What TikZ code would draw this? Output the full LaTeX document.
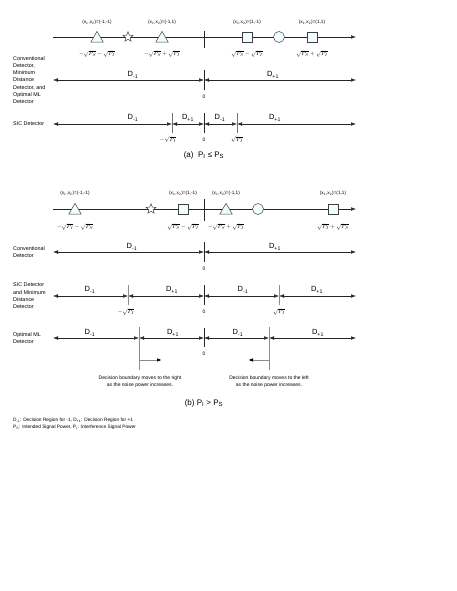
\documentclass[tikz,border=0pt]{standalone}
\usepackage{fontspec}
\setmainfont{Liberation Sans}
\usetikzlibrary{arrows.meta,shapes.geometric}
\begin{document}
\begin{tikzpicture}[x=1pt,y=-1pt,
  tip/.tip={Latex[length=5pt,width=3.6pt]},
  ln/.style={draw=black!85,line width=0.5pt},
  dbl/.style={ln,tip-tip},
  axisln/.style={ln,-tip},
  tickln/.style={draw=black!85,line width=0.5pt},
  gtick/.style={draw=black!45,line width=1pt},
  shp/.style={draw=black!75,line width=0.5pt,fill=blue!12!cyan!5!white,inner sep=0pt},
  tri/.style={shp,regular polygon,regular polygon sides=3,minimum size=14.5pt},
  sq/.style={shp,rectangle,minimum size=10pt},
  circ/.style={shp,circle,minimum size=11pt},
  str/.style={draw=black!75,line width=0.5pt,fill=white,star,star points=5,star point ratio=2.3,minimum size=10.5pt,inner sep=0pt},
  tinytxt/.style={font=\fontsize{4.7}{5}\selectfont,inner sep=0pt},
  val/.style={font=\fontsize{5}{6}\selectfont,inner sep=0pt},
  mval/.style={font=\fontsize{10}{12}\selectfont,inner sep=0pt,scale=0.6},
  dl/.style={font=\fontsize{7.5}{8}\selectfont,inner sep=0pt},
  lab/.style={font=\fontsize{5.4}{7.3}\selectfont,align=left,anchor=west,inner sep=0pt},
  captxt/.style={font=\fontsize{8}{9}\selectfont,inner sep=0pt},
  notetxt/.style={font=\fontsize{5}{7}\selectfont,align=center,inner sep=0pt},
  leg/.style={font=\fontsize{4.8}{6}\selectfont,anchor=west,inner sep=0pt}]
\useasboundingbox (0,0) rectangle (457,591);

% ================= (a) =================
\coordinate (aS) at (53,37);
\coordinate (aE) at (356,37);
\coordinate (aTt) at (204,31);
\coordinate (aTb) at (204,48);
\draw[axisln] (aS) -- (aE);
\draw[tickln] (aTt) -- (aTb);
\node[tri] (aP1) at (97,38.6) {};
\node[str] (aP2) at (128,37) {};
\node[tri] (aP3) at (162,38.6) {};
\node[sq] (aP4) at (247,37) {};
\node[circ] (aP5) at (279,37) {};
\node[sq] (aP6) at (312,37) {};
\node[tinytxt] (aC1) at (97,22) {(x\textsubscript{1},x\textsubscript{2})=(-1,-1)};
\node[tinytxt] (aC3) at (162,22) {(x\textsubscript{1},x\textsubscript{2})=(-1,1)};
\node[tinytxt] (aC4) at (247,22) {(x\textsubscript{1},x\textsubscript{2})=(1,-1)};
\node[tinytxt] (aC6) at (312,22) {(x\textsubscript{1},x\textsubscript{2})=(1,1)};
\node[mval] (aV1) at (97,54) {$-\sqrt{P_S}-\sqrt{P_I}$};
\node[mval] (aV3) at (162,54) {$-\sqrt{P_S}+\sqrt{P_I}$};
\node[mval] (aV4) at (247,54) {$\sqrt{P_S}-\sqrt{P_I}$};
\node[mval] (aV6) at (312,54) {$\sqrt{P_S}+\sqrt{P_I}$};

\node[lab] (aL1) at (13,80) {Conventional\\Detector,\\Minimum\\Distance\\Detector, and\\Optimal ML\\Detector};
\coordinate (bL) at (53,80);
\coordinate (bZ) at (204,80);
\coordinate (bR) at (356,80);
\coordinate (bZt) at (204,70);
\coordinate (bZb) at (204,90);
\draw[dbl] (bL) -- (bZ);
\draw[dbl] (bZ) -- (bR);
\draw[tickln] (bZt) -- (bZb);
\node[dl] (bD1) at (133,75) {D\textsubscript{-1}};
\node[dl] (bD2) at (273,75) {D\textsubscript{+1}};
\node[val] (bN0) at (204,97) {0};

\node[lab] (aL2) at (13,124) {SIC Detector};
\coordinate (cL) at (53,124);
\coordinate (cA) at (172,124);
\coordinate (cZ) at (204,124);
\coordinate (cB) at (237,124);
\coordinate (cR) at (356,124);
\coordinate (cAt) at (172,113);
\coordinate (cAb) at (172,133);
\coordinate (cZt) at (204,113);
\coordinate (cZb) at (204,133);
\coordinate (cBt) at (237,113);
\coordinate (cBb) at (237,133);
\draw[dbl] (cL) -- (cA);
\draw[dbl] (cA) -- (cZ);
\draw[dbl] (cZ) -- (cB);
\draw[dbl] (cB) -- (cR);
\draw[tickln,draw=black!55] (cAt) -- (cAb);
\draw[tickln] (cZt) -- (cZb);
\draw[tickln,draw=black!55] (cBt) -- (cBb);
\node[dl] (cD1) at (133,118) {D\textsubscript{-1}};
\node[dl] (cD2) at (188,118) {D\textsubscript{+1}};
\node[dl] (cD3) at (220,118) {D\textsubscript{-1}};
\node[dl] (cD4) at (275,118) {D\textsubscript{+1}};
\node[mval] (cV1) at (168,139.5) {$-\sqrt{P_I}$};
\node[val] (cV2) at (204,139.5) {0};
\node[mval] (cV3) at (237,139.5) {$\sqrt{P_I}$};

\node[captxt] (capA) at (204,155) {(a)\ \ P\textsubscript{I} ≤ P\textsubscript{S}};

% ================= (b) =================
\coordinate (dS) at (53,209);
\coordinate (dE) at (356,209);
\coordinate (dTt) at (204,199);
\coordinate (dTb) at (204,221);
\draw[axisln] (dS) -- (dE);
\draw[tickln] (dTt) -- (dTb);
\node[tri] (dP1) at (75,210.6) {};
\node[str] (dP2) at (151,209) {};
\node[sq] (dP3) at (183,209) {};
\node[tri] (dP4) at (226,210.6) {};
\node[circ] (dP5) at (258,209) {};
\node[sq] (dP6) at (333,209) {};
\node[tinytxt] (dC1) at (75,193) {(x\textsubscript{1},x\textsubscript{2})=(-1,-1)};
\node[tinytxt] (dC3) at (183,193) {(x\textsubscript{1},x\textsubscript{2})=(1,-1)};
\node[tinytxt] (dC4) at (226,193) {(x\textsubscript{1},x\textsubscript{2})=(-1,1)};
\node[tinytxt] (dC6) at (333,193) {(x\textsubscript{1},x\textsubscript{2})=(1,1)};
\node[mval] (dV1) at (75,227) {$-\sqrt{P_I}-\sqrt{P_S}$};
\node[mval] (dV3) at (183,227) {$\sqrt{P_S}-\sqrt{P_I}$};
\node[mval] (dV4) at (226,227) {$-\sqrt{P_S}+\sqrt{P_I}$};
\node[mval] (dV6) at (333,227) {$\sqrt{P_I}+\sqrt{P_S}$};

\node[lab] (dL1) at (13,252) {Conventional\\Detector};
\coordinate (eL) at (53,252);
\coordinate (eZ) at (204,252);
\coordinate (eR) at (356,252);
\coordinate (eZt) at (204,242);
\coordinate (eZb) at (204,262);
\draw[dbl] (eL) -- (eZ);
\draw[dbl] (eZ) -- (eR);
\draw[tickln] (eZt) -- (eZb);
\node[dl] (eD1) at (132,247) {D\textsubscript{-1}};
\node[dl] (eD2) at (275,247) {D\textsubscript{+1}};
\node[val] (eN0) at (204,269) {0};

\node[lab] (dL2) at (13,296) {SIC Detector\\and Minimum\\Distance\\Detector};
\coordinate (fL) at (53,296);
\coordinate (fA) at (128,296);
\coordinate (fZ) at (204,296);
\coordinate (fB) at (279,296);
\coordinate (fR) at (356,296);
\coordinate (fAt) at (128,285);
\coordinate (fAb) at (128,305);
\coordinate (fZt) at (204,285);
\coordinate (fZb) at (204,305);
\coordinate (fBt) at (279,285);
\coordinate (fBb) at (279,305);
\draw[dbl] (fL) -- (fA);
\draw[dbl] (fA) -- (fZ);
\draw[dbl] (fZ) -- (fB);
\draw[dbl] (fB) -- (fR);
\draw[gtick] (fAt) -- (fAb);
\draw[tickln] (fZt) -- (fZb);
\draw[gtick] (fBt) -- (fBb);
\node[dl] (fD1) at (90,290) {D\textsubscript{-1}};
\node[dl] (fD2) at (172,290) {D\textsubscript{+1}};
\node[dl] (fD3) at (243,290) {D\textsubscript{-1}};
\node[dl] (fD4) at (317,290) {D\textsubscript{+1}};
\node[mval] (fV1) at (126,312) {$-\sqrt{P_I}$};
\node[val] (fV2) at (204,312) {0};
\node[mval] (fV3) at (279,312) {$\sqrt{P_I}$};

\node[lab] (dL3) at (13,338) {Optimal ML\\Detector};
\coordinate (gL) at (53,338);
\coordinate (gA) at (139,338);
\coordinate (gZ) at (204,338);
\coordinate (gB) at (269,338);
\coordinate (gR) at (356,338);
\coordinate (gAt) at (139,327);
\coordinate (gAb) at (139,370);
\coordinate (gZt) at (204,328);
\coordinate (gZb) at (204,347);
\coordinate (gBt) at (269,327);
\coordinate (gBb) at (269,370);
\draw[dbl] (gL) -- (gA);
\draw[dbl] (gA) -- (gZ);
\draw[dbl] (gZ) -- (gB);
\draw[dbl] (gB) -- (gR);
\draw[gtick] (gAt) -- (gAb);
\draw[tickln] (gZt) -- (gZb);
\draw[gtick] (gBt) -- (gBb);
\node[dl] (gD1) at (90,333) {D\textsubscript{-1}};
\node[dl] (gD2) at (173,333) {D\textsubscript{+1}};
\node[dl] (gD3) at (238,333) {D\textsubscript{-1}};
\node[dl] (gD4) at (318,333) {D\textsubscript{+1}};
\node[val] (gN0) at (204,354) {0};
\coordinate (hA1) at (139,360);
\coordinate (hA2) at (162,360);
\coordinate (hB1) at (269,360);
\coordinate (hB2) at (248,360);
\draw[draw=black!45,line width=1pt,-{Latex[length=5pt,width=3.6pt,black]}] (hA1) -- (hA2);
\draw[draw=black!45,line width=1pt,-{Latex[length=5pt,width=3.6pt,black]}] (hB1) -- (hB2);
\node[notetxt] (nA) at (140,381.5) {Decision boundary moves to the right\\as the noise power increases.};
\node[notetxt] (nB) at (269,381.5) {Decision boundary moves to the left\\as the noise power increases.};

\node[captxt] (capB) at (204,403) {(b) P\textsubscript{I} > P\textsubscript{S}};

\node[leg] (lg1) at (13,420) {D\textsubscript{-1}: Decision Region for -1, D\textsubscript{+1}: Decision Region for +1};
\node[leg] (lg2) at (13,427) {P\textsubscript{S}: Intended Signal Power, P\textsubscript{I}: Interference Signal Power};
\end{tikzpicture}
\end{document}
